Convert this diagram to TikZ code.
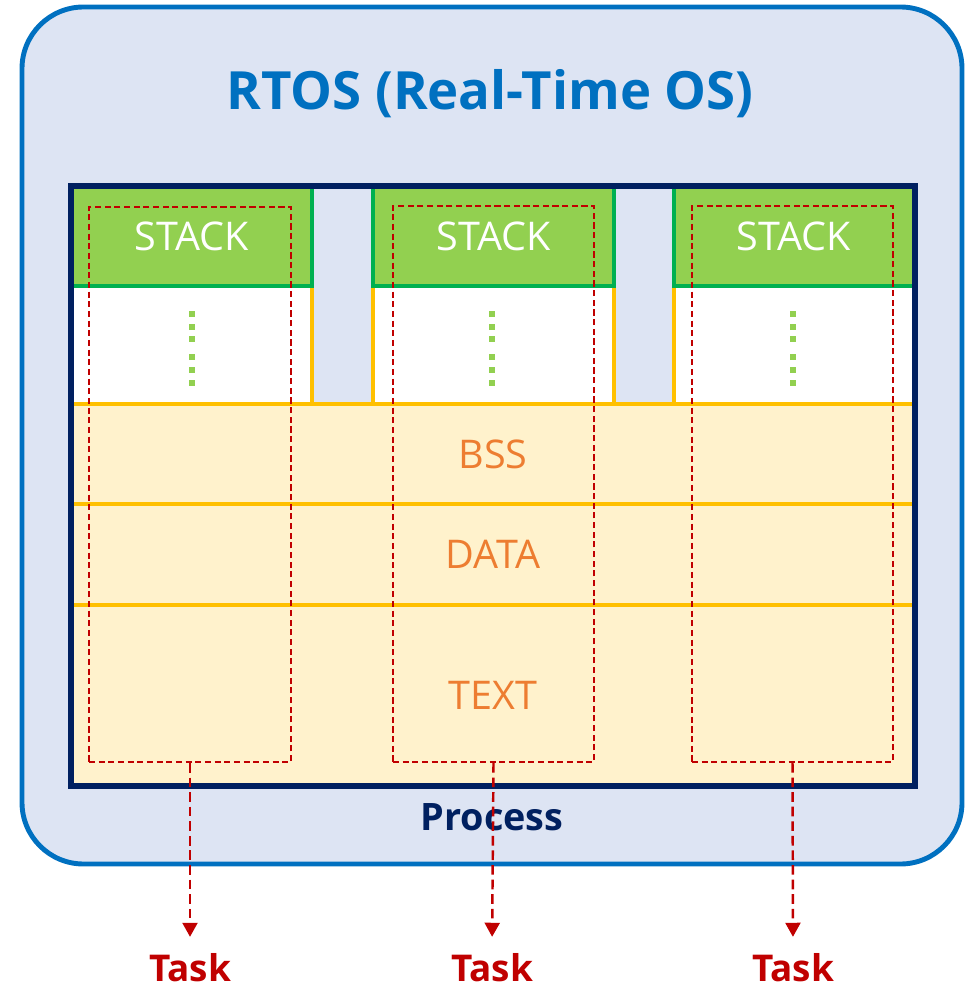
\documentclass[tikz,border=0pt]{standalone}
\usepackage{fontspec}
\setmainfont{Open Sans}
\usetikzlibrary{fit,positioning,arrows.meta}
\definecolor{rtosblue}{HTML}{0070C0}
\definecolor{rtosfill}{HTML}{DDE4F3}
\definecolor{procnavy}{HTML}{002060}
\definecolor{stackgreen}{HTML}{92D050}
\definecolor{stackline}{HTML}{00B050}
\definecolor{segyellow}{HTML}{FFC000}
\definecolor{segfill}{HTML}{FFF2CC}
\definecolor{segtext}{HTML}{ED7D31}
\definecolor{taskred}{HTML}{C00000}

\begin{document}
\begin{tikzpicture}[x=0.02cm,y=-0.02cm,
  rtosbox/.style={draw=rtosblue,fill=rtosfill,line width=2.8pt,rounded corners=35pt,inner sep=0pt},
  stackbox/.style={draw=stackline,fill=stackgreen,line width=2pt,inner sep=0pt},
  slotbox/.style={draw=segyellow,fill=white,line width=2.2pt,inner sep=0pt},
  segbox/.style={draw=segyellow,fill=segfill,line width=2.2pt,inner sep=0pt},
  stacktext/.style={text=white,font=\fontsize{22.5}{27}\selectfont},
  segtext/.style={text=segtext,font=\fontsize{22.5}{27}\selectfont},
  procbox/.style={draw=procnavy,line width=3.2pt,inner sep=0pt},
  taskframe/.style={draw=taskred,line width=1.1pt,dash pattern=on 3.5pt off 2pt,inner sep=0pt},
  tasklink/.style={draw=taskred,line width=1.4pt,dash pattern=on 5.5pt off 2.8pt,-{Triangle[width=8.5pt,length=8pt]},shorten >=8pt},
  tasklabel/.style={text=taskred,font=\bfseries\fontsize{21}{25}\selectfont,anchor=base,inner sep=1pt}]
\useasboundingbox (0,0) rectangle (965,989);

\node [rtosbox,fit={(22,7) (962,864)}] (rtos) {};
\node [anchor=base,text=rtosblue,font=\bfseries\fontsize{30}{36}\selectfont] (title) at (490,110) {RTOS (Real-Time OS)};

\node [segbox,fit={(72,404) (914,504)}] (bss) {};
\node [segbox,fit={(72,504) (914,605)}] (data) {};
\node [segbox,fit={(72,605) (914,786)}] (text) {};
\node [segtext] at (bss.center) {BSS};
\node [segtext] at (data.center) {DATA};
\node [segtext] at (text.center) {TEXT};

\node [slotbox,fit={(72,286) (312,404)}] (slot1) {};
\node [slotbox,fit={(373,286) (614,404)}] (slot2) {};
\node [slotbox,fit={(674,286) (914,404)}] (slot3) {};

\node [stackbox,fit={(72,187) (312,286)}] (stack1) {};
\node [stackbox,fit={(373,187) (614,286)}] (stack2) {};
\node [stackbox,fit={(674,187) (914,286)}] (stack3) {};
\node [stacktext] at (stack1.center) {STACK};
\node [stacktext] at (stack2.center) {STACK};
\node [stacktext] at (stack3.center) {STACK};

\foreach \x in {192,492,793}
  \foreach \y in {314,327,339,357,370,383}
    \fill [stackgreen] (\x-3,\y-3) rectangle (\x+3,\y+3);

\node [procbox,fit={(71,186) (915,786)}] (process) {};
\node [anchor=base,text=procnavy,font=\bfseries\fontsize{21.5}{26}\selectfont] (proclabel) at (492,830) {Process};

\node [taskframe,fit={(89,207) (291,762)}] (frame1) {};
\node [taskframe,fit={(393,206) (594,762)}] (frame2) {};
\node [taskframe,fit={(692,206) (893,762)}] (frame3) {};

\node [tasklabel] (task1) at (190,981) {Task};
\node [tasklabel] (task2) at (492,981) {Task};
\node [tasklabel] (task3) at (793,981) {Task};

\draw [tasklink] (frame1.south) -- (task1.north);
\draw [tasklink] (frame2.south) -- (task2.north);
\draw [tasklink] (frame3.south) -- (task3.north);
\end{tikzpicture}
\end{document}
